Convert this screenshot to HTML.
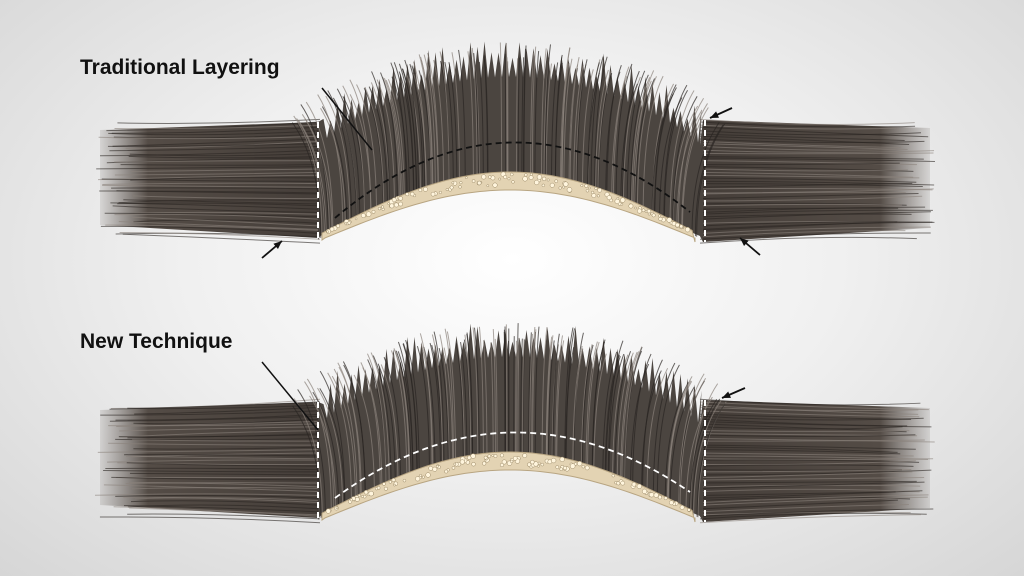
<!DOCTYPE html>
<html><head><meta charset="utf-8"><style>
html,body{margin:0;padding:0;width:1024px;height:576px;overflow:hidden}
body{background:radial-gradient(ellipse at 50% 45%,#ffffff 0%,#f0f0f0 45%,#d6d6d6 100%);font-family:"Liberation Sans",sans-serif}
svg{position:absolute;left:0;top:0}
.lbl{position:absolute;font-weight:bold;font-size:21px;color:#111}
</style></head><body>
<svg id="s" width="1024" height="576" viewBox="0 0 1024 576">
<defs>
<linearGradient id="hl" x1="0" x2="1"><stop offset="0" stop-color="#6a625c" stop-opacity="0.15"/><stop offset="0.22" stop-color="#544c46"/><stop offset="1" stop-color="#453e39"/></linearGradient>
<linearGradient id="hr" x1="1" x2="0"><stop offset="0" stop-color="#6a625c" stop-opacity="0.15"/><stop offset="0.22" stop-color="#544c46"/><stop offset="1" stop-color="#453e39"/></linearGradient>
</defs>
<g id="g"></g>
</svg>
<div class="lbl" style="left:80px;top:56px">Traditional Layering</div>
<div class="lbl" style="left:80px;top:330px">New Technique</div>
<script>
var g=document.getElementById('g'),NS='http://www.w3.org/2000/svg';
function el(t,a){var e=document.createElementNS(NS,t);for(var k in a)e.setAttribute(k,a[k]);g.appendChild(e);return e;}
var seed=7;function r(){seed=(seed*9301+49297)%233280;return seed/233280;}
function band(oy,top,dashCol,arcTop){
 el('path',{d:'M100 '+(oy+130)+' L318 '+(oy+122)+' L318 '+(oy+238)+' L100 '+(oy+225)+'Z',fill:'url(#hl)'});
 el('path',{d:'M930 '+(oy+128)+' L703 '+(oy+120)+' L703 '+(oy+242)+' L930 '+(oy+228)+'Z',fill:'url(#hr)'});
 for(var i=0;i<45;i++){var y=oy+125+i*2.5+r()*2;var x0=95+r()*40;
  el('path',{d:'M'+x0+' '+(y+(r()-0.5)*8)+' Q210 '+(y+(r()-0.5)*4)+' 320 '+(y+(i-22)*0.3),stroke:r()<0.5?'#2a2522':'#8a827b',"stroke-width":1,fill:'none',opacity:0.6});
  var x1=935-r()*40;
  el('path',{d:'M'+x1+' '+(y+(r()-0.5)*8)+' Q815 '+(y+(r()-0.5)*4)+' 700 '+(y+(i-22)*0.3),stroke:r()<0.5?'#2a2522':'#8a827b',"stroke-width":1,fill:'none',opacity:0.6});}
 function cl(x){return Math.min(1,Math.max(0,(x-320)/380));}
 function base(x){return oy+238-Math.sin(Math.PI*cl(x))*50;}
 function tip(x){return oy+130-Math.pow(Math.sin(Math.PI*cl(x)),0.8)*(oy+130-top);}
 var d='M318 '+(oy+122);
 for(var x=320;x<700;x+=7){d+=' L'+(x+3.5)+' '+(tip(x+3.5)-r()*25)+' L'+Math.min(700,x+7)+' '+(tip(x+7)+15);}
 d+=' L703 '+(oy+120)+' L703 '+(oy+242);
 for(var x=700;x>=320;x-=5)d+=' L'+x+' '+(base(x)-2);
 d+=' L318 '+(oy+240)+'Z';
 el('path',{d:d,fill:'#4b4540'});
 for(var k=0;k<140;k++){var x=320+r()*380;var tx=x+(x-510)*0.15;var ty=tip(x)-r()*20;
  el('path',{d:'M'+x+' '+base(x)+' Q'+x+' '+(ty+40)+' '+tx+' '+ty,stroke:r()<0.5?'#2a2522':'#8a827b',"stroke-width":1,fill:'none',opacity:0.7});}
 var bd='M322 '+(oy+240);for(var x=322;x<=695;x+=5)bd+=' L'+x+' '+(base(x)-4-Math.sin(Math.PI*(x-322)/373)*12);
 bd+=' L695 '+(oy+242);for(var x=695;x>=322;x-=5)bd+=' L'+x+' '+(base(x)+2);bd+='Z';
 el('path',{d:bd,fill:'#e3d3b3',stroke:'#b8a582'});
 for(var k=0;k<120;k++){var x=325+r()*368;var y=base(x)-3-r()*Math.sin(Math.PI*(x-322)/373)*12;
  el('circle',{cx:x,cy:y,r:1+r()*1.5,fill:'#fff5dd',stroke:'#9c8a68',"stroke-width":0.5});}
 el('line',{x1:318,y1:oy+122,x2:318,y2:oy+240,stroke:'#fff',"stroke-width":2,"stroke-dasharray":'6 4'});
 el('line',{x1:705,y1:oy+120,x2:705,y2:oy+242,stroke:'#fff',"stroke-width":2,"stroke-dasharray":'6 4'});
 el('path',{d:'M335 '+(oy+218)+' Q510 '+arcTop+' 690 '+(oy+212),stroke:dashCol,"stroke-width":1.8,fill:'none',"stroke-dasharray":'6 4'});
}
band(0,62,'#111',70);
band(280,342,'#fff',370);
function arrow(x1,y1,x2,y2){el('line',{x1:x1,y1:y1,x2:x2,y2:y2,stroke:'#111',"stroke-width":1.8});
 var a=Math.atan2(y2-y1,x2-x1),L=9;
 el('path',{d:'M'+x2+' '+y2+' L'+(x2-L*Math.cos(a-0.4))+' '+(y2-L*Math.sin(a-0.4))+' L'+(x2-L*Math.cos(a+0.4))+' '+(y2-L*Math.sin(a+0.4))+'Z',fill:'#111'});}
el('line',{x1:322,y1:88,x2:372,y2:150,stroke:'#111',"stroke-width":1.5});
el('line',{x1:262,y1:362,x2:318,y2:430,stroke:'#111',"stroke-width":1.5});
arrow(262,258,282,241);arrow(732,108,710,118);arrow(760,255,740,238);arrow(745,388,722,398);
</script>
</body></html>
